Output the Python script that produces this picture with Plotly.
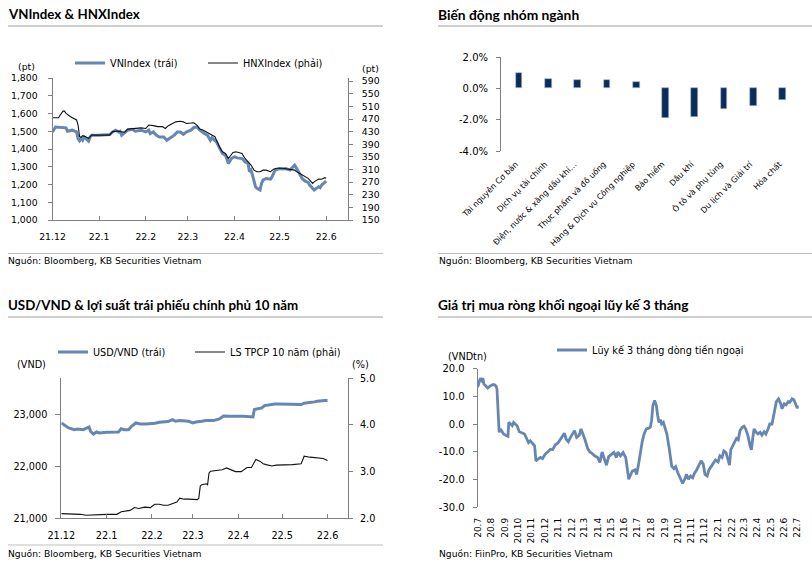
import plotly.graph_objects as go

W, H = 812, 565
def fx(px): return px / W
def fy(py): return 1 - py / H

BLUE = "#6686B3"
NAVY = "#0B2D5A"
AX = "#808080"
TXT = "#000000"
FONT = "DejaVu Sans"

# ---------------- data: VNIndex & HNXIndex ----------------
vn_dates = ['2021-12-01','2021-12-03','2021-12-10','2021-12-11','2021-12-14','2021-12-17','2021-12-18','2021-12-19','2021-12-20','2021-12-21','2021-12-22','2021-12-25','2021-12-26','2021-12-27','2022-01-01','2022-01-08','2022-01-10','2022-01-12','2022-01-14','2022-01-15','2022-01-16','2022-01-18','2022-01-20','2022-01-23','2022-01-25','2022-01-29','2022-02-01','2022-02-03','2022-02-04','2022-02-06','2022-02-08','2022-02-10','2022-02-13','2022-02-15','2022-02-17','2022-02-18','2022-02-20','2022-02-22','2022-02-24','2022-02-26','2022-02-28','2022-03-03','2022-03-05','2022-03-07','2022-03-09','2022-03-12','2022-03-14','2022-03-16','2022-03-17','2022-03-20','2022-03-22','2022-03-24','2022-03-26','2022-03-28','2022-03-30','2022-04-01','2022-04-03','2022-04-06','2022-04-08','2022-04-10','2022-04-11','2022-04-12','2022-04-13','2022-04-15','2022-04-16','2022-04-18','2022-04-19','2022-04-20','2022-04-22','2022-04-25','2022-04-26','2022-04-28','2022-05-01','2022-05-03','2022-05-05','2022-05-08','2022-05-10','2022-05-11','2022-05-13','2022-05-16','2022-05-18','2022-05-20','2022-05-21','2022-05-23','2022-05-24','2022-05-27','2022-05-28','2022-05-29','2022-05-31','2022-06-01']
vn_values = [1496,1524,1519,1500,1506,1496,1459,1446,1459,1449,1468,1444,1468,1478,1478,1481,1496,1506,1496,1500,1478,1492,1506,1511,1500,1506,1496,1506,1487,1496,1478,1468,1468,1449,1459,1468,1478,1496,1496,1483,1496,1506,1521,1524,1506,1487,1478,1449,1463,1440,1403,1375,1365,1318,1346,1356,1350,1346,1328,1318,1272,1281,1253,1187,1178,1169,1206,1225,1234,1230,1243,1281,1290,1287,1290,1281,1300,1309,1281,1234,1219,1212,1197,1178,1169,1187,1182,1197,1215,1219]

hnx_dates = ['2021-12-01','2021-12-05','2021-12-06','2021-12-08','2021-12-09','2021-12-10','2021-12-13','2021-12-15','2021-12-17','2021-12-18','2021-12-19','2021-12-20','2021-12-21','2021-12-23','2021-12-25','2021-12-27','2022-01-02','2022-01-08','2022-01-10','2022-01-13','2022-01-15','2022-01-18','2022-01-20','2022-01-23','2022-01-26','2022-01-29','2022-02-01','2022-02-03','2022-02-06','2022-02-09','2022-02-12','2022-02-14','2022-02-16','2022-02-18','2022-02-21','2022-02-24','2022-02-26','2022-02-28','2022-03-03','2022-03-05','2022-03-07','2022-03-09','2022-03-11','2022-03-13','2022-03-15','2022-03-17','2022-03-19','2022-03-21','2022-03-22','2022-03-24','2022-03-26','2022-03-28','2022-03-30','2022-03-31','2022-04-02','2022-04-04','2022-04-06','2022-04-08','2022-04-11','2022-04-12','2022-04-14','2022-04-16','2022-04-18','2022-04-20','2022-04-22','2022-04-25','2022-04-27','2022-04-29','2022-05-03','2022-05-08','2022-05-11','2022-05-13','2022-05-16','2022-05-18','2022-05-20','2022-05-23','2022-05-24','2022-05-27','2022-05-29','2022-05-31','2022-06-01']
hnx_values = [474,474,482,495,495,488,477,472,467,451,414,412,417,414,409,419,419,419,430,432,430,428,438,440,440,442,440,451,449,446,446,440,449,453,461,463,461,456,458,458,451,438,435,430,424,419,414,393,382,366,361,345,356,364,366,364,361,345,329,324,308,303,303,308,308,303,311,314,314,311,308,301,292,287,282,266,271,280,279,284,282]

idx_month_ticks = ['2021-12-01','2022-01-01','2022-02-01','2022-03-01','2022-04-01','2022-05-01','2022-06-01']
idx_month_labels = ['21.12','22.1','22.2','22.3','22.4','22.5','22.6']
vn_ticks = [1000,1100,1200,1300,1400,1500,1600,1700,1800]
hnx_ticks = [150,190,230,270,310,350,390,430,470,510,550,590]

# ---------------- data: sector moves ----------------
sectors = ['Tài nguyên Cơ bản','Dịch vụ tài chính','Điện, nước & xăng dầu khí…','Thực phẩm và đồ uống',
           'Hàng & Dịch vụ Công nghiệp','Bảo hiểm','Dầu khí','Ô tô và phụ tùng','Du lịch và Giải trí','Hóa chất']
sector_changes = [0.99,0.59,0.53,0.52,0.42,-1.89,-1.85,-1.31,-1.14,-0.74]
sector_ticks = [-4,-2,0,2]
sector_tick_labels = ['-4.0%','-2.0%','0.0%','2.0%']

# ---------------- data: USD/VND & 10y yield ----------------
usd_dates = ['2021-12-01','2021-12-03','2021-12-06','2021-12-10','2021-12-12','2021-12-16','2021-12-19','2021-12-20','2021-12-21','2021-12-23','2021-12-25','2021-12-27','2022-01-01','2022-01-06','2022-01-09','2022-01-11','2022-01-13','2022-01-16','2022-01-18','2022-01-21','2022-01-24','2022-01-28','2022-02-01','2022-02-03','2022-02-06','2022-02-09','2022-02-12','2022-02-15','2022-02-17','2022-02-20','2022-02-23','2022-02-26','2022-03-01','2022-03-03','2022-03-07','2022-03-10','2022-03-15','2022-03-19','2022-03-21','2022-03-22','2022-03-26','2022-03-29','2022-04-02','2022-04-05','2022-04-08','2022-04-11','2022-04-12','2022-04-14','2022-04-17','2022-04-19','2022-04-22','2022-04-26','2022-04-29','2022-05-01','2022-05-04','2022-05-07','2022-05-10','2022-05-14','2022-05-16','2022-05-20','2022-05-23','2022-05-25','2022-05-28','2022-05-30','2022-06-01']
usd_values = [22839,22806,22742,22710,22723,22710,22742,22761,22677,22626,22665,22645,22658,22665,22665,22729,22710,22710,22774,22839,22819,22819,22819,22832,22852,22858,22865,22903,22871,22884,22884,22871,22839,22858,22871,22884,22884,22916,22955,22974,22968,22974,22968,22968,22961,22955,23097,23110,23129,23174,23194,23206,23206,23206,23194,23206,23206,23194,23219,23226,23245,23258,23271,23271,23271]

ls_dates = ['2021-12-01','2021-12-05','2021-12-10','2021-12-14','2021-12-18','2021-12-21','2021-12-25','2022-01-01','2022-01-06','2022-01-08','2022-01-11','2022-01-15','2022-01-17','2022-01-20','2022-01-23','2022-01-27','2022-01-31','2022-02-01','2022-02-03','2022-02-06','2022-02-09','2022-02-12','2022-02-16','2022-02-18','2022-02-20','2022-02-23','2022-02-26','2022-03-01','2022-03-04','2022-03-05','2022-03-06','2022-03-07','2022-03-10','2022-03-11','2022-03-12','2022-03-13','2022-03-17','2022-03-21','2022-03-24','2022-03-27','2022-03-30','2022-04-03','2022-04-05','2022-04-07','2022-04-10','2022-04-12','2022-04-13','2022-04-16','2022-04-18','2022-04-20','2022-04-24','2022-04-27','2022-05-01','2022-05-04','2022-05-08','2022-05-14','2022-05-16','2022-05-20','2022-05-24','2022-05-29','2022-06-01']
ls_values = [2.10,2.10,2.085,2.085,2.064,2.07,2.085,2.085,2.085,2.085,2.14,2.16,2.17,2.23,2.21,2.24,2.23,2.26,2.30,2.30,2.28,2.28,2.33,2.35,2.43,2.41,2.41,2.41,2.40,2.43,2.69,2.72,2.74,2.72,2.97,3.01,3.02,3.04,3.08,3.04,3.00,3.00,3.04,3.09,3.09,3.22,3.26,3.22,3.17,3.15,3.12,3.14,3.14,3.15,3.15,3.17,3.33,3.31,3.29,3.28,3.24]

usd_ticks = [21000,22000,23000]
ls_ticks = [2,3,4,5]

# ---------------- data: foreign net buying (3M rolling) ----------------
flow_dates = ['2020-07-01','2020-07-04','2020-07-07','2020-07-10','2020-07-13','2020-07-15','2020-07-19','2020-07-24','2020-07-29','2020-08-04','2020-08-08','2020-08-12','2020-08-14','2020-08-16','2020-08-17','2020-08-19','2020-08-22','2020-08-25','2020-08-29','2020-09-04','2020-09-08','2020-09-10','2020-09-13','2020-09-18','2020-09-21','2020-09-25','2020-09-29','2020-10-04','2020-10-10','2020-10-16','2020-10-22','2020-10-25','2020-10-29','2020-11-04','2020-11-08','2020-11-11','2020-11-16','2020-11-21','2020-11-26','2020-12-02','2020-12-08','2020-12-14','2020-12-19','2020-12-25','2021-01-01','2021-01-06','2021-01-12','2021-01-15','2021-01-19','2021-01-24','2021-01-29','2021-02-03','2021-02-07','2021-02-12','2021-02-18','2021-02-22','2021-02-27','2021-03-03','2021-03-09','2021-03-14','2021-03-19','2021-03-25','2021-04-01','2021-04-06','2021-04-11','2021-04-17','2021-04-21','2021-04-26','2021-05-02','2021-05-08','2021-05-14','2021-05-17','2021-05-23','2021-05-29','2021-06-04','2021-06-08','2021-06-11','2021-06-14','2021-06-19','2021-06-25','2021-06-29','2021-07-04','2021-07-08','2021-07-12','2021-07-16','2021-07-21','2021-07-25','2021-07-30','2021-08-02','2021-08-05','2021-08-09','2021-08-13','2021-08-16','2021-08-19','2021-08-22','2021-08-25','2021-08-29','2021-09-01','2021-09-06','2021-09-11','2021-09-17','2021-09-22','2021-09-26','2021-10-01','2021-10-06','2021-10-12','2021-10-16','2021-10-21','2021-10-25','2021-10-30','2021-11-04','2021-11-08','2021-11-13','2021-11-19','2021-11-23','2021-11-28','2021-12-02','2021-12-07','2021-12-11','2021-12-16','2021-12-21','2021-12-26','2022-01-01','2022-01-05','2022-01-10','2022-01-14','2022-01-19','2022-01-24','2022-01-27','2022-01-30','2022-02-04','2022-02-08','2022-02-12','2022-02-16','2022-02-20','2022-02-25','2022-03-01','2022-03-05','2022-03-10','2022-03-15','2022-03-18','2022-03-21','2022-03-24','2022-03-29','2022-04-02','2022-04-07','2022-04-11','2022-04-16','2022-04-20','2022-04-25','2022-04-29','2022-05-04','2022-05-07','2022-05-10','2022-05-14','2022-05-19','2022-05-24','2022-05-27','2022-06-01','2022-06-05','2022-06-10','2022-06-14','2022-06-19','2022-06-23','2022-06-28','2022-07-01','2022-07-03']
flow_values = [13.3,15.2,16.6,15.8,16.6,14.5,13.7,13.0,13.7,14.2,14.2,13.7,12.7,6.7,-1.2,-3.0,-1.8,-2.4,-3.6,-4.2,-4.5,0.6,0.0,-0.6,0.6,0.0,-0.6,-2.8,-3.3,-3.6,-5.7,-6.7,-6.1,-7.3,-7.9,-13.3,-12.7,-12.1,-12.5,-10.9,-10.1,-9.1,-9.3,-7.6,-6.7,-5.5,-4.2,-3.3,-5.5,-6.4,-4.8,-3.6,-2.4,-4.8,-4.0,-1.8,-3.6,-5.7,-8.8,-10.1,-10.6,-11.5,-12.1,-13.9,-10.1,-13.0,-14.9,-11.8,-10.9,-10.3,-12.1,-10.1,-11.5,-10.3,-12.1,-17.0,-20.0,-18.8,-17.0,-16.6,-18.2,-13.9,-9.7,-6.1,-3.6,-1.8,-1.6,-1.2,1.2,6.7,8.5,6.7,3.0,0.6,1.6,0.0,0.6,-0.8,-3.6,-8.5,-15.2,-16.1,-15.4,-17.6,-19.4,-21.5,-20.2,-18.2,-20.0,-18.8,-19.4,-17.8,-16.6,-14.5,-13.3,-14.5,-18.2,-18.8,-16.6,-15.4,-14.2,-13.0,-13.7,-11.5,-12.1,-9.7,-10.3,-13.9,-14.9,-9.3,-7.9,-6.4,-5.2,-5.7,-2.4,-1.2,-0.8,-1.8,-4.2,-7.9,-9.3,-5.2,-1.8,-3.0,-3.6,-3.0,-4.0,-2.8,-3.6,-1.8,0.0,0.0,2.4,5.5,8.1,9.1,7.3,5.5,7.3,6.9,8.1,7.9,9.1,8.8,6.9,5.7,6.7]

flow_month_ticks = ['2020-07-01','2020-08-01','2020-09-01','2020-10-01','2020-11-01','2020-12-01','2021-01-01','2021-02-01','2021-03-01','2021-04-01','2021-05-01','2021-06-01','2021-07-01','2021-08-01','2021-09-01','2021-10-01','2021-11-01','2021-12-01','2022-01-01','2022-02-01','2022-03-01','2022-04-01','2022-05-01','2022-06-01','2022-07-01']
flow_month_labels = ['20.7','20.8','20.9','20.10','20.11','20.12','21.1','21.2','21.3','21.4','21.5','21.6','21.7','21.8','21.9','21.10','21.11','21.12','22.1','22.2','22.3','22.4','22.5','22.6','22.7']
flow_ticks = [-30,-20,-10,0,10,20]
flow_tick_labels = ['-30.0','-20.0','-10.0','0.0','10.0','20.0']

# ---------------- figure ----------------
fig = go.Figure()

fig.add_trace(go.Scatter(x=vn_dates, y=vn_values, name='VNIndex (trái)', mode='lines',
                         line=dict(color=BLUE, width=3), xaxis='x', yaxis='y', legend='legend'))
fig.add_trace(go.Scatter(x=hnx_dates, y=hnx_values, name='HNXIndex (phải)', mode='lines',
                         line=dict(color='#111111', width=1.1), xaxis='x', yaxis='y2', legend='legend2'))
fig.add_trace(go.Bar(x=sectors, y=sector_changes, marker=dict(color=NAVY, line=dict(color='#A9BCD6', width=0.6)),
                     width=0.23, offset=0.0, showlegend=False, xaxis='x3', yaxis='y3'))
fig.add_trace(go.Scatter(x=usd_dates, y=usd_values, name='USD/VND (trái)', mode='lines',
                         line=dict(color=BLUE, width=3), xaxis='x5', yaxis='y5', legend='legend3'))
fig.add_trace(go.Scatter(x=ls_dates, y=ls_values, name='LS TPCP 10 năm (phải)', mode='lines',
                         line=dict(color='#111111', width=1.1), xaxis='x5', yaxis='y6', legend='legend4'))
fig.add_trace(go.Scatter(x=flow_dates, y=flow_values, name='Lũy kế 3 tháng dòng tiền ngoại', mode='lines',
                         line=dict(color=BLUE, width=2.8), xaxis='x7', yaxis='y7', legend='legend5'))

def axis_base(size):
    return dict(showgrid=False, zeroline=False, showline=True, linecolor=AX, linewidth=1, automargin=False,
                tickcolor=AX, tickwidth=1, tickfont=dict(family=FONT, size=size, color=TXT))

# Panel A
A_dom_x = [fx(52.5), fx(348)]
A_dom_y = [fy(220), fy(78)]
xa = axis_base(9.3); xa.update(domain=A_dom_x, anchor='y', type='date', range=['2021-12-01', '2022-06-15 12:00'],
                               tickvals=idx_month_ticks, ticktext=idx_month_labels, ticks='inside', ticklen=4,
                               ticklabelstandoff=8)
ya = axis_base(9.3); ya.update(domain=A_dom_y, anchor='x', range=[1000, 1800], tickvals=vn_ticks, tickformat=',',
                               ticks='outside', ticklen=4, ticklabelstandoff=8)
ya2 = axis_base(9.3); ya2.update(overlaying='y', side='right', anchor='x', range=[150, 600], tickvals=hnx_ticks,
                                 ticks='outside', ticklen=4, ticklabelstandoff=7)

# Panel B (sectors)
B_dom_x = [fx(501), fx(794)]
B_dom_y = [fy(151), fy(57)]
B_range = [-4, 2]
xb = axis_base(8); xb.update(domain=B_dom_x, anchor='y3', type='category', range=[-0.5, len(sectors) - 0.5],
                             showline=False, ticks='', tickangle=-45, ticklabelstandoff=6)
yb = axis_base(10); yb.update(domain=B_dom_y, anchor='x3', range=B_range, tickvals=sector_ticks,
                              ticktext=sector_tick_labels, ticks='outside', ticklen=4, ticklabelstandoff=6)
b_zero = B_dom_y[0] + (0 - B_range[0]) / (B_range[1] - B_range[0]) * (B_dom_y[1] - B_dom_y[0])
xb2 = axis_base(8); xb2.update(overlaying='x3', anchor='free', position=b_zero, type='linear',
                               range=[-0.5, len(sectors) - 0.5],
                               tickvals=[i - 0.5 for i in range(len(sectors) + 1)], ticks='inside', ticklen=4,
                               showticklabels=False)

# Panel C (USD/VND)
C_dom_x = [fx(61.3), fx(348)]
C_dom_y = [fy(518.3), fy(378.3)]
xc = axis_base(9.7); xc.update(domain=C_dom_x, anchor='y5', type='date', range=['2021-12-01', '2022-06-15'],
                               tickvals=idx_month_ticks, ticktext=idx_month_labels, ticks='inside', ticklen=4,
                               ticklabelstandoff=8)
yc = axis_base(9.7); yc.update(domain=C_dom_y, anchor='x5', range=[21000, 23700], tickvals=usd_ticks,
                               tickformat=',', ticks='outside', ticklen=5, ticklabelstandoff=6)
yc2 = axis_base(9.7); yc2.update(overlaying='y5', side='right', anchor='x5', range=[2, 5], tickvals=ls_ticks,
                                 tickformat='.1f', ticks='outside', ticklen=4, ticklabelstandoff=5)

# Panel D (foreign flows)
D_dom_x = [fx(477.7), fx(798.7)]
D_dom_y = [fy(507), fy(368.7)]
D_range = [-30, 20]
D_xrange = ['2020-07-01', '2022-07-04']
xd = axis_base(9); xd.update(domain=D_dom_x, anchor='y7', type='date', range=D_xrange, tickvals=flow_month_ticks,
                             ticktext=flow_month_labels, tickangle=-90, showline=False, ticks='', ticklabelstandoff=8)
yd = axis_base(10); yd.update(domain=D_dom_y, anchor='x7', range=D_range, tickvals=flow_ticks,
                              ticktext=flow_tick_labels, ticks='outside', ticklen=4, ticklabelstandoff=6)
d_zero = D_dom_y[0] + (0 - D_range[0]) / (D_range[1] - D_range[0]) * (D_dom_y[1] - D_dom_y[0])
xd2 = axis_base(9); xd2.update(overlaying='x7', anchor='free', position=d_zero, type='date', range=D_xrange,
                               tickvals=flow_month_ticks, ticks='inside', ticklen=4, showticklabels=False)

def leg(px_line_start, py):
    return dict(x=fx(px_line_start - 5), y=fy(py), xanchor='left', yanchor='middle', orientation='h',
                bgcolor='rgba(0,0,0,0)', borderwidth=0, itemwidth=30,
                font=dict(family=FONT, size=9.7, color=TXT))

annotations = []
def text(px, py, s, size=9.3, bold=False, family=FONT, xanchor='left'):
    annotations.append(dict(x=fx(px), y=fy(py), xref='paper', yref='paper', text=('<b>%s</b>' % s) if bold else s,
                            showarrow=False, xanchor=xanchor, yanchor='middle',
                            font=dict(family=family, size=size, color=TXT)))

TF = 'Lato'
text(6, 14.5, 'VNIndex & HNXIndex', size=13.3, bold=True, family=TF)
text(436, 14.5, 'Biến động nhóm ngành', size=13.8, bold=True, family=TF)
text(6, 305, 'USD/VND & lợi suất trái phiếu chính phủ 10 năm', size=13.3, bold=True, family=TF)
text(436, 305, 'Giá trị mua ròng khối ngoại lũy kế 3 tháng', size=13.6, bold=True, family=TF)

text(6, 260.5, 'Nguồn: Bloomberg, KB Securities Vietnam', size=9.2)
text(437, 260.5, 'Nguồn: Bloomberg, KB Securities Vietnam', size=9.2)
text(6, 553, 'Nguồn: Bloomberg, KB Securities Vietnam', size=9.2)
text(437, 553, 'Nguồn: FiinPro, KB Securities Vietnam', size=9.2)

text(26.5, 67, '(pt)', xanchor='center')
text(370, 68.5, '(pt)', xanchor='center')
text(31, 364.5, '(VND)', size=9.7, xanchor='center')
text(360, 364.5, '(%)', size=9.7, xanchor='center')
text(467.5, 356, '(VNDtn)', size=9.7, xanchor='center')

shapes = []
def hline(x0, x1, py, w=1.3, c='#BFBFBF'):
    shapes.append(dict(type='line', xref='paper', yref='paper', x0=fx(x0), x1=fx(x1), y0=fy(py), y1=fy(py),
                       line=dict(color=c, width=w)))

hline(8, 383, 26)
hline(438, 812, 26)
hline(8, 383, 317, w=1.6)
hline(438, 812, 317, w=1.6)
hline(8, 383, 253.5, w=1)
hline(438, 812, 253.5, w=1)
hline(8, 383, 545, w=1)

fig.update_layout(
    width=W, height=H, autosize=False, margin=dict(l=0, r=0, t=0, b=0, autoexpand=False),
    paper_bgcolor='white', plot_bgcolor='white',
    xaxis=xa, yaxis=ya, yaxis2=ya2,
    xaxis3=xb, yaxis3=yb, xaxis4=xb2,
    xaxis5=xc, yaxis5=yc, yaxis6=yc2,
    xaxis7=xd, yaxis7=yd, xaxis8=xd2,
    legend=leg(75, 63), legend2=leg(208, 63), legend3=leg(58, 352), legend4=leg(195, 352),
    legend5=leg(557, 350),
    annotations=annotations, shapes=shapes, showlegend=True, bargap=0,
)

fig.write_html('out.html', config={'displayModeBar': False},
               post_script="document.body.style.margin='0px';document.body.style.overflow='hidden';")
